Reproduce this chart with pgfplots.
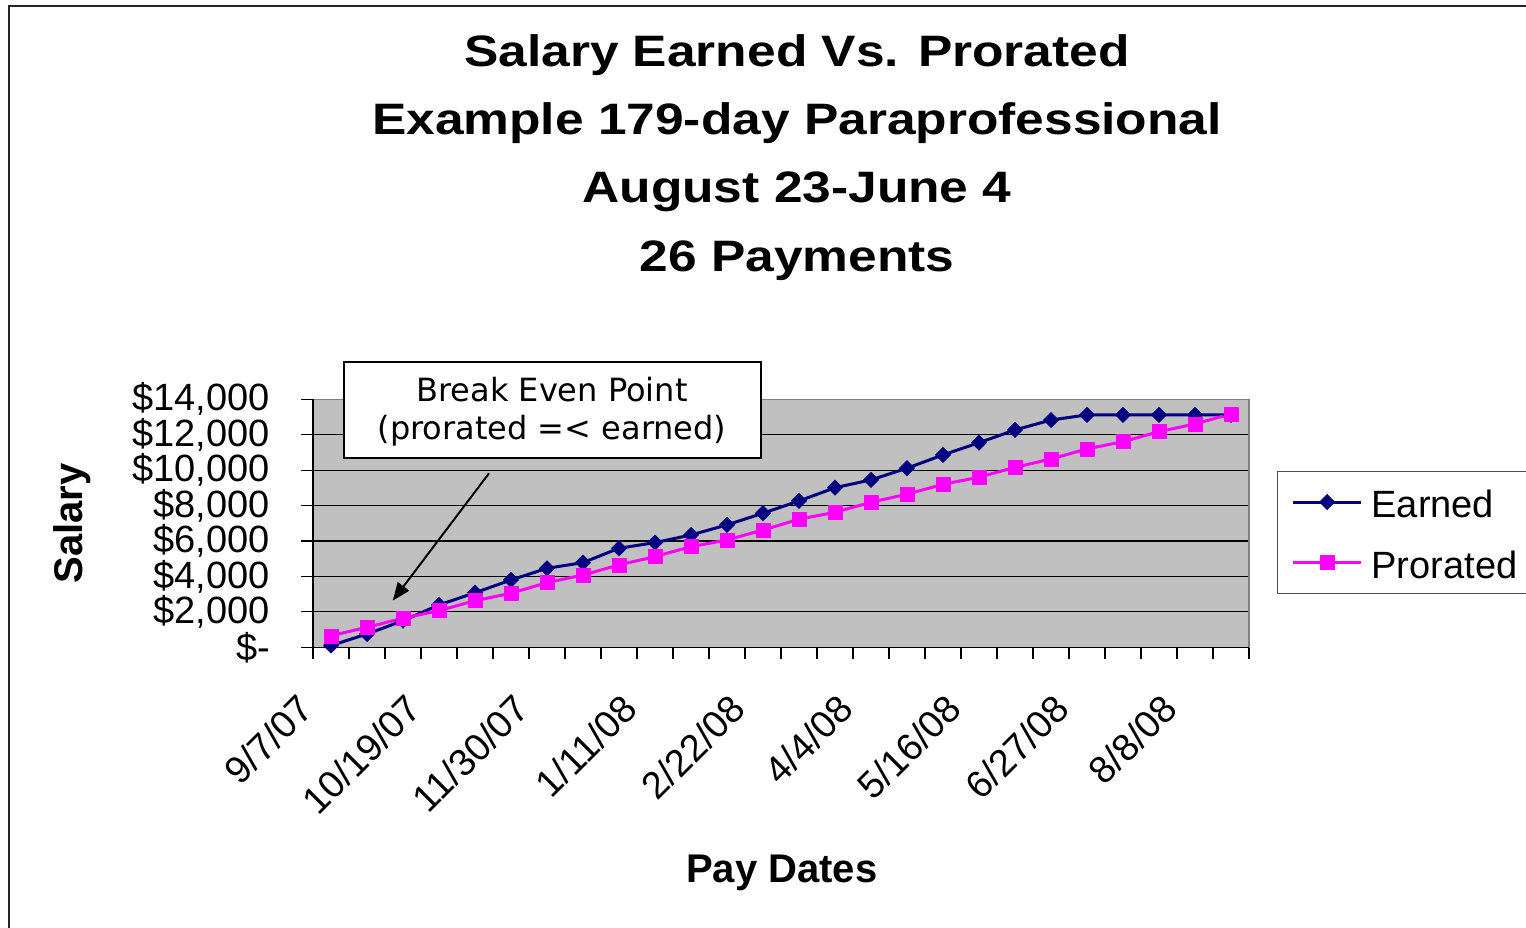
\documentclass[border=0pt]{standalone}
\usepackage{fontspec}
\setmainfont{Liberation Sans}
\newfontfamily\titlefont[FakeStretch=1.17]{Liberation Sans}
\newfontfamily\notefont{DejaVu Sans}
\usepackage{pgfplots}
\usepackage{pgfplotstable}
\pgfplotsset{compat=1.18}
\usetikzlibrary{arrows.meta}
\definecolor{navy}{HTML}{000080}
\definecolor{mag}{HTML}{FF00FF}
\definecolor{plotgray}{HTML}{C0C0C0}

\pgfplotstableread{
idx earned prorated
0 100 650
1 750 1130
2 1500 1640
3 2390 2070
4 3080 2630
5 3800 3050
6 4460 3650
7 4780 4080
8 5590 4650
9 5910 5120
10 6340 5680
11 6910 6060
12 7570 6620
13 8260 7230
14 9010 7620
15 9450 8190
16 10110 8640
17 10860 9200
18 11550 9600
19 12270 10160
20 12830 10630
21 13120 11200
22 13120 11610
23 13120 12170
24 13120 12610
25 13120 13170
}\datatable

\begin{document}
\begin{tikzpicture}[x=1pt,y=1pt]
\useasboundingbox (0,0) rectangle (1526,928);
% outer chart frame (cut off at right and bottom)
\draw[line width=2pt, black!85] (8.5,-20) -- (8.5,921.5) -- (1560,921.5);
% title
\begin{scope}[every node/.style={anchor=base, font={\titlefont\bfseries\fontsize{44}{52}\selectfont}}]
\node at (797,861.3) {Salary Earned Vs. Prorated};
\node at (797,793.0) {Example 179-day Paraprofessional};
\node at (797,725.0) {August 23-June 4};
\node at (797,656.3) {26 Payments};
\end{scope}
% axis titles
\node[rotate=90, anchor=base, font={\bfseries\fontsize{40}{40}\selectfont}] at (82.7,404.7) {Salary};
\node[anchor=base, font={\bfseries\fontsize{40}{40}\selectfont}] at (781.7,45.3) {Pay Dates};

\begin{axis}[
  at={(313pt,280.7pt)}, anchor=south west,
  width=936pt, height=248pt, scale only axis,
  xmin=-0.5, xmax=25.5, ymin=0, ymax=14000,
  scaled y ticks=false,
  axis background/.style={fill=plotgray},
  axis line style={draw=black!50, line width=1.5pt},
  clip=false,
  tick pos=left, tick align=outside,
  major tick length=12pt,
  tick style={black, line width=1.2pt},
  xtick={-0.5,0.5,...,25.5}, xticklabels={},
  ytick={0,2000,...,14000},
  yticklabels={{\$-},{\$2,000},{\$4,000},{\$6,000},{\$8,000},{\$10,000},{\$12,000},{\$14,000}},
  yticklabel style={font={\fontsize{38}{38}\selectfont}, anchor=east, inner sep=0pt, xshift=-31pt},
  ymajorgrids, grid style={black, line width=1.2pt},
  extra x ticks={-0.25,2.75,...,23.75},
  extra x tick labels={9/7/07,10/19/07,11/30/07,1/11/08,2/22/08,4/4/08,5/16/08,6/27/08,8/8/08},
  extra x tick style={major tick length=0pt, grid=none,
     xticklabel style={xshift=-16pt, yshift=-55pt, rotate=45, anchor=east, inner sep=0pt, font={\fontsize{38}{38}\selectfont}}},
  legend style={at={(axis description cs:1.0299,0.7109)}, anchor=north west,
     draw=black!70, line width=1.2pt, fill=white,
     font={\fontsize{38}{38}\selectfont},
     inner xsep=14pt, inner ysep=15pt, row sep=29.6pt, column sep=9pt,
     nodes={inner sep=0pt, text height=31pt, text depth=0pt}},
  legend cell align=left,
  legend image code/.code={\draw[mark repeat=2,mark phase=2,#1] plot coordinates {(0pt,0pt) (34pt,0pt) (68pt,0pt)};},
]
\draw[black, line width=1.5pt] (rel axis cs:0,1) -- (rel axis cs:0,0) -- (rel axis cs:1,0);
\addplot[navy, line width=3pt, mark=square*, mark size=5.4pt, mark options={rotate=45, solid, fill=navy, draw=navy, line width=0.5pt}] table[x=idx, y=earned] {\datatable};
\addlegendentry{Earned}
\addplot[mag, line width=3pt, mark=square*, mark size=7pt, mark options={solid, fill=mag, draw=mag, line width=0.5pt}] table[x=idx, y=prorated] {\datatable};
\addlegendentry{Prorated}
\end{axis}

% annotation
\draw[line width=2pt, fill=white] (344,566) rectangle (760.7,470.3);
\node[anchor=base, font={\notefont\fontsize{32}{32}\selectfont}] at (552,526) {Break Even Point};
\node[anchor=base, font={\notefont\fontsize{32}{32}\selectfont}] at (552,488) {(prorated =< earned)};
\draw[line width=2pt, -{Triangle[length=18pt, width=14pt]}] (489,454.7) -- (392.7,327.3);
\end{tikzpicture}
\end{document}
